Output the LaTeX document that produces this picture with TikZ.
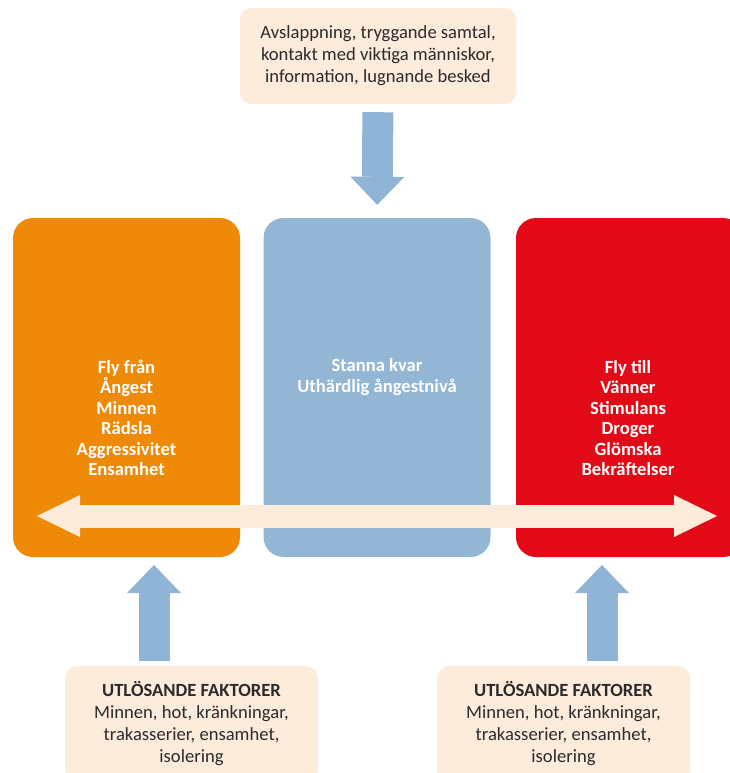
\documentclass[tikz,border=0pt]{standalone}
\usepackage{fontspec}
\setmainfont{Carlito}
\usepackage{tikz}
\usetikzlibrary{arrows.meta}

\definecolor{flyorange}{HTML}{EE8A08}
\definecolor{stayblue}{HTML}{93B6D5}
\definecolor{flyred}{HTML}{E20A17}
\definecolor{peach}{HTML}{FDEBDC}
\definecolor{arrowblue}{HTML}{8FB4D6}
\definecolor{textgray}{HTML}{2B2B2B}

\begin{document}
\begin{tikzpicture}[x=1pt,y=-1pt,
  bigbox/.style={rounded corners=20pt,minimum width=227pt,minimum height=339pt,inner sep=0pt},
  softbox/.style={fill=peach,rounded corners=12pt,inner sep=0pt,text=textgray,align=center,font=\fontsize{18.6}{22}\selectfont},
  boxtext/.style={text=white,align=center,font=\bfseries\fontsize{18.6}{20.5}\selectfont},
  bluearrow/.style={draw=arrowblue,line width=31pt,-{Triangle[length=28pt,width=54pt,line width=0pt]}}]
\useasboundingbox (0,0) rectangle (729,773);

\node[bigbox,fill=flyorange] (fromBox) at (126.5,387.5) {};
\node[bigbox,fill=stayblue] (stayBox) at (377,387.5) {};
\node[bigbox,fill=flyred] (toBox) at (629.5,387.5) {};

\node[softbox,minimum width=276pt,minimum height=96pt] (calm) at (378,56) {Avslappning, tryggande samtal,\\kontakt med viktiga människor,\\information, lugnande besked};
\node[softbox,minimum width=253pt,minimum height=116pt] (trigL) at (191.5,724) {\textbf{UTLÖSANDE FAKTORER}\\Minnen, hot, kränkningar,\\trakasserier, ensamhet,\\isolering};
\node[softbox,minimum width=253pt,minimum height=116pt] (trigR) at (563.5,724) {\textbf{UTLÖSANDE FAKTORER}\\Minnen, hot, kränkningar,\\trakasserier, ensamhet,\\isolering};

\node[boxtext] (fromTxt) at (126.5,418) {Fly från\\Ångest\\Minnen\\Rädsla\\Aggressivitet\\Ensamhet};
\node[boxtext] (stayTxt) at (377,377) {Stanna kvar\\Uthärdlig ångestnivå};
\node[boxtext] (toTxt) at (628,418) {Fly till\\Vänner\\Stimulans\\Droger\\Glömska\\Bekräftelser};

\coordinate (upL) at (154,557);
\coordinate (upR) at (602,557);
\coordinate (fleeL) at (37,516);
\coordinate (fleeR) at (717,516);

\draw[bluearrow,shorten <=8pt,shorten >=13pt] (calm.south) -- (stayBox.north);
\draw[bluearrow,shorten <=5pt,shorten >=8pt] (trigL.north -| upL) -- (upL);
\draw[bluearrow,shorten <=5pt,shorten >=8pt] (trigR.north -| upR) -- (upR);
\draw[draw=peach,line width=23pt,{Triangle[length=43pt,width=42pt,line width=0pt]}-{Triangle[length=43pt,width=42pt,line width=0pt]}] (fleeL) -- (fleeR);
\end{tikzpicture}
\end{document}
